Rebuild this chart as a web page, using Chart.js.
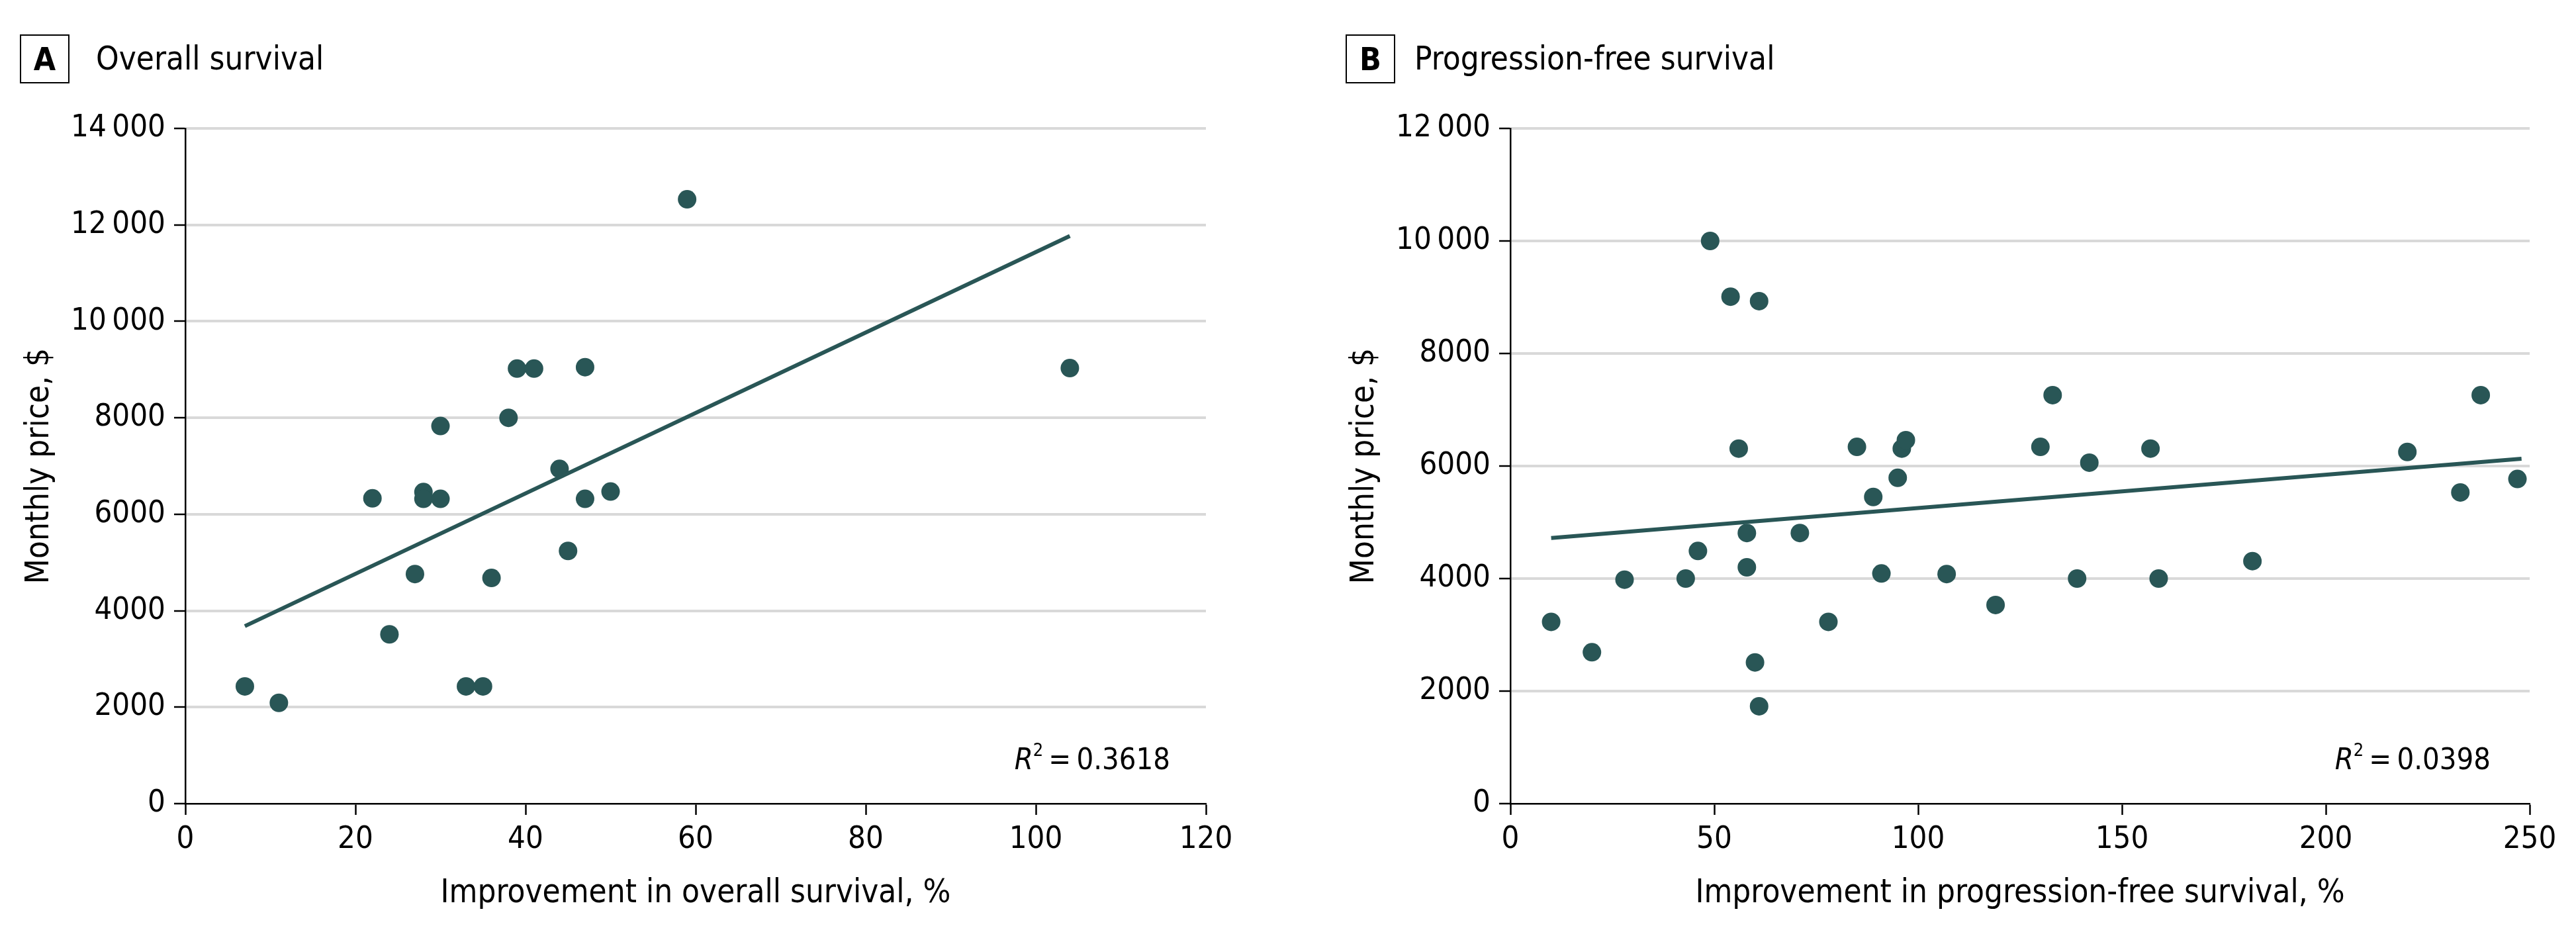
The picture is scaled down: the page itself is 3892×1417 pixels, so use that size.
<!DOCTYPE html>
<html lang="en">
<head>
<meta charset="UTF-8">
<title>Monthly price vs survival improvement</title>
<style>
    body { margin: 0; background: #fff; }
    #wrap { position: relative; width: 3892px; height: 1417px; font-family: 'DejaVu Sans Condensed', 'Liberation Sans Narrow', sans-serif; color: #000; }
    .panel { position: absolute; top: 0; width: 1946px; height: 1417px; }
    .tag { position: absolute; top: 52px; width: 71px; height: 70px; border: 2.5px solid #000; font-weight: bold; font-size: 48px; line-height: 70px; text-align: center; }
    .head { position: absolute; top: 52px; font-size: 49px; line-height: 74px; white-space: nowrap; }
    .r2 { position: absolute; top: 1124px; font-size: 45px; line-height: 45px; white-space: nowrap; }
    .r2 sup { font-size: 0.6em; vertical-align: 0.75em; line-height: 0; }
</style>
</head>
<body>
<div id="wrap">
    <div class="panel" style="left:0"><canvas id="osChart" width="1946" height="1417"></canvas></div>
    <div class="panel" style="left:1946px"><canvas id="pfsChart" width="1946" height="1417"></canvas></div>

    <div class="tag" style="left:30px">A</div>
    <div class="head" style="left:145px">Overall survival</div>
    <div class="tag" style="left:2033px">B</div>
    <div class="head" style="left:2137px">Progression-free survival</div>

    <div class="r2" style="right:2124px"><i>R</i><sup>2</sup>&thinsp;=&thinsp;0.3618</div>
    <div class="r2" style="right:129px"><i>R</i><sup>2</sup>&thinsp;=&thinsp;0.0398</div>
</div>

<script src="https://cdn.jsdelivr.net/npm/chart.js@4.4.0/dist/chart.umd.min.js"></script>
<script>
    // A: overall survival
    const osImprove = [7, 11, 22, 24, 27, 28, 28, 30, 30, 33, 35, 36, 38, 39, 41, 44, 45, 47, 47, 50, 59, 104];
    const osPrice = [2430, 2090, 6330, 3510, 4760, 6460, 6320, 7830, 6320, 2430, 2430, 4680, 8000, 9020, 9020, 6940, 5240, 9050, 6320, 6470, 12530, 9030];
    const osFitX = [7, 104];
    const osFitY = [3680, 11770];

    // B: progression-free survival
    const pfsImprove = [10, 20, 28, 43, 46, 49, 54, 56, 58, 58, 60, 61, 61, 71, 78, 85, 89, 91, 95, 96, 97, 107, 119, 130, 133, 139, 142, 157, 159, 182, 220, 233, 238, 247];
    const pfsPrice = [3230, 2690, 3980, 4000, 4490, 10000, 9010, 6310, 4810, 4200, 2510, 8930, 1730, 4810, 3230, 6340, 5450, 4090, 5790, 6310, 6460, 4080, 3530, 6340, 7260, 4000, 6060, 6310, 4000, 4310, 6250, 5530, 7260, 5770];
    const pfsFitX = [10, 248];
    const pfsFitY = [4720, 6130];

    const teal = '#295656';

    Chart.defaults.font.family = "'DejaVu Sans Condensed', 'Liberation Sans Narrow', sans-serif";
    Chart.defaults.color = '#000';

    function toPoints(xs, ys) {
        return xs.map((x, i) => ({ x: x, y: ys[i] }));
    }

    function priceLabel(v) {
        // thin space as thousands separator from 10 000 up
        if (v >= 10000) {
            const s = String(v);
            return s.slice(0, s.length - 3) + '\u2009' + s.slice(-3);
        }
        return String(v);
    }

    function makeChart(id, xs, ys, fx, fy, xMax, xStep, yMax, xTitle, padLeft, padRight) {
        const ctx = document.getElementById(id).getContext('2d');
        return new Chart(ctx, {
            type: 'scatter',
            data: {
                datasets: [
                    {
                        data: toPoints(xs, ys),
                        backgroundColor: teal,
                        borderWidth: 0,
                        pointRadius: 14,
                        pointHoverRadius: 14,
                        order: 2
                    },
                    {
                        type: 'line',
                        data: toPoints(fx, fy),
                        borderColor: teal,
                        borderWidth: 6,
                        pointRadius: 0,
                        fill: false,
                        order: 1
                    }
                ]
            },
            options: {
                responsive: false,
                devicePixelRatio: 1,
                animation: false,
                events: [],
                layout: { padding: { top: 194, right: padRight, bottom: 0, left: padLeft } },
                plugins: { legend: { display: false }, tooltip: { enabled: false } },
                scales: {
                    x: {
                        type: 'linear',
                        min: 0,
                        max: xMax,
                        afterFit: function (scale) { scale.height = 203; },
                        ticks: { stepSize: xStep, padding: 10, font: { size: 47 } },
                        grid: { drawOnChartArea: false, tickLength: 17, tickColor: '#000', tickWidth: 2.5 },
                        border: { color: '#000', width: 2.5 },
                        title: { display: true, text: xTitle, font: { size: 49 }, padding: { top: 0, bottom: 37 } }
                    },
                    y: {
                        min: 0,
                        max: yMax,
                        afterFit: function (scale) { scale.width = 280; },
                        ticks: { stepSize: 2000, padding: 13, font: { size: 47 }, callback: priceLabel },
                        grid: {
                            color: c => (c.tick && c.tick.value === 0) ? 'rgba(0,0,0,0)' : '#d9d9d9',
                            lineWidth: 4,
                            tickLength: 17,
                            tickColor: '#000',
                            tickWidth: 2.5
                        },
                        border: { color: '#000', width: 2.5 },
                        title: { display: true, text: 'Monthly price, $', font: { size: 49 }, padding: { top: 31, bottom: 0 } }
                    }
                }
            }
        });
    }

    makeChart('osChart', osImprove, osPrice, osFitX, osFitY, 120, 20, 14000,
        'Improvement in overall survival, %', 0, 124);
    makeChart('pfsChart', pfsImprove, pfsPrice, pfsFitX, pfsFitY, 250, 50, 12000,
        'Improvement in progression-free survival, %', 56, 70);
</script>
</body>
</html>
